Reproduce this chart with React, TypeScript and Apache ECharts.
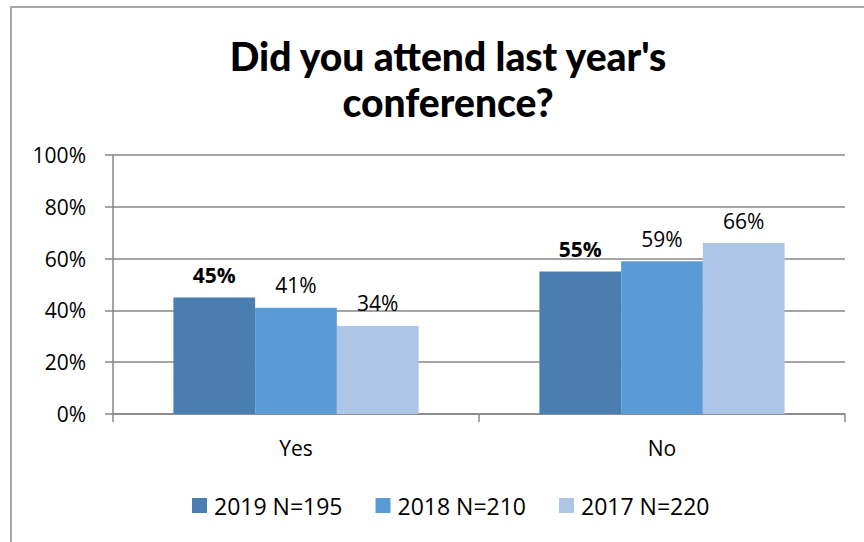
import React, { useEffect, useRef } from "react";
import * as echarts from "echarts";

const categories = ["Yes", "No"];
const seriesNames = ["2019 N=195", "2018 N=210", "2017 N=220"];
const values2019 = [45, 55];
const values2018 = [41, 59];
const values2017 = [34, 66];
const yTicks = [0, 20, 40, 60, 80, 100];
const colors = ["#4a7eb0", "#5b9bd5", "#adc5e6"];

const FONT = "'Open Sans', 'Liberation Sans', sans-serif";
const FS = 21;

export default function App() {
  const ref = useRef<HTMLDivElement>(null);
  useEffect(() => {
    if (!ref.current) return;
    const chart = echarts.init(ref.current, null, { renderer: "svg" });
    const data = [values2019, values2018, values2017];
    chart.setOption({
      animation: false,
      backgroundColor: "#ffffff",
      title: {
        text: "Did you attend last year's\nconference?",
        left: 443,
        textAlign: "center",
        top: 28,
        textStyle: {
          fontFamily: "'Lato', 'Liberation Sans', sans-serif",
          fontWeight: 900,
          fontSize: 39,
          lineHeight: 46,
          color: "#000000",
        },
      },
      graphic: [
        {
          type: "rect",
          shape: { x: 11, y: 7, width: 880, height: 600 },
          style: { fill: "none", stroke: "#a6a6a6", lineWidth: 2 },
          silent: true,
          z: -1,
        },
      ],
      legend: {
        top: 489,
        left: 187,
        itemWidth: 15,
        itemHeight: 15,
        itemGap: 33,
        icon: "rect",
        textStyle: { fontFamily: FONT, fontSize: 23, color: "#000", padding: [0, 0, 0, 2] },
        data: seriesNames,
      },
      grid: { left: 113, right: 19, top: 155, bottom: 128 },
      xAxis: {
        type: "category",
        data: categories,
        axisLine: { lineStyle: { color: "#878787", width: 1.5 } },
        axisTick: { show: true, length: 8, lineStyle: { color: "#878787", width: 1.5 } },
        axisLabel: { fontFamily: FONT, fontSize: FS, color: "#000", margin: 23 },
      },
      yAxis: {
        type: "value",
        min: 0,
        max: 100,
        interval: 20,
        axisLine: { show: true, lineStyle: { color: "#878787", width: 1.5 } },
        axisTick: { show: true, length: 8, lineStyle: { color: "#878787", width: 1.5 } },
        splitLine: { lineStyle: { color: "#878787", width: 1.5 } },
        axisLabel: {
          fontFamily: FONT,
          fontSize: FS,
          color: "#000",
          margin: 27,
          formatter: (v: number) => (yTicks.includes(v) ? v + "%" : ""),
        },
      },
      series: seriesNames.map((name, i) => ({
        name,
        type: "bar",
        data: data[i],
        barGap: "0%",
        barCategoryGap: "33%",
        itemStyle: { color: colors[i] },
        label: {
          show: true,
          position: "top",
          distance: 12,
          formatter: "{c}%",
          fontFamily: FONT,
          fontSize: FS,
          color: "#000",
          fontWeight: i === 0 ? "bold" : "normal",
        },
      })),
    });
    return () => chart.dispose();
  }, []);
  return (
    <div
      ref={ref}
      style={{ position: "fixed", left: 0, top: 0, width: 864, height: 542 }}
    />
  );
}
